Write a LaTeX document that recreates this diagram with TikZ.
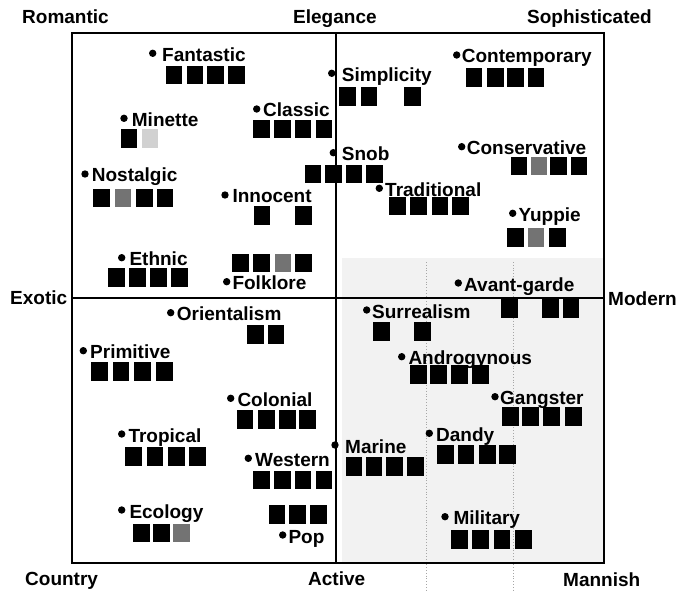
\documentclass[tikz,border=0pt]{standalone}
\usepackage{fontspec}
\setmainfont{Liberation Sans}
\newcommand\imgitem[5]{%
  \fill (#2,#3) circle[radius=3.7];
  \node[lbl] (#1) at (#4,#3+8) {#5};
}
\newcommand\sqrow[3]{%
  \foreach \xx in {#2} {\fill[#3] (\xx,#1) rectangle ++(16.5,18.5);}
}
\tikzset{
  lbl/.style={anchor=base west, inner sep=0pt, font=\fontsize{19}{21}\selectfont\bfseries},
  corner/.style={anchor=base west, inner sep=0pt, font=\fontsize{19}{21}\selectfont\bfseries},
  blk/.style={fill=black},
  mot/.style={fill=black!55},
  lightmot/.style={fill=black!18},
  frame/.style={line width=2pt},
  axis/.style={line width=1.6pt},
  grid/.style={black!35, dotted, line width=0.8pt}
}
\begin{document}
\begin{tikzpicture}[x=1pt,y=-1pt]
\useasboundingbox (0,0) rectangle (677,596);
% faint stippled area of the lower right quadrant
\fill[black!5] (342,258) rectangle (604,563);
\draw[grid] (426,262) -- (426,590);
\draw[grid] (513,262) -- (513,590);
% frame and axes
\draw[frame] (72,33) rectangle (604,563);
\draw[axis] (336,33) -- (336,563);
\draw[axis] (72,298) -- (604,298);
% corner and axis labels
\node[corner] (romantic) at (22,24) {Romantic};
\node[corner] (elegance) at (293,24) {Elegance};
\node[corner] (sophisticated) at (527,24) {Sophisticated};
\node[corner] (exotic) at (10,304) {Exotic};
\node[corner] (modern) at (608,305) {Modern};
\node[corner] (country) at (25,585) {Country};
\node[corner] (active) at (308,585) {Active};
\node[corner] (mannish) at (563,586) {Mannish};
% upper left
\imgitem{fantastic}{152.7}{53.3}{162}{Fantastic}
\sqrow{66}{165.7,186.7,207,228}{blk}
\imgitem{minette}{124}{118.3}{131.7}{Minette}
\sqrow{129.3}{120.7}{blk}
\sqrow{129.3}{141.7}{lightmot}
\imgitem{nostalgic}{85}{174}{91.7}{Nostalgic}
\sqrow{189}{93.3,136,156.5}{blk}
\sqrow{189}{114.5}{mot}
\imgitem{ethnic}{121.7}{257.7}{129.3}{Ethnic}
\sqrow{268.3}{108,129,150,171}{blk}
\imgitem{classic}{256.7}{109}{263}{Classic}
\sqrow{120}{253,274,294.5,315.5}{blk}
\imgitem{innocent}{225}{195}{232.3}{Innocent}
\sqrow{206}{253.5,295}{blk}
\sqrow{253.5}{232,253,295}{blk}
\sqrow{253.5}{274.5}{mot}
\imgitem{folklore}{226.7}{281.7}{232.3}{Folklore}
% upper right
\imgitem{simplicity}{331.7}{73.3}{341.7}{Simplicity}
\sqrow{87.3}{339,360.5,404}{blk}
\imgitem{snob}{333.3}{152.7}{341.7}{Snob}
\sqrow{165}{304.5,325,345.5,366}{blk}
\imgitem{contemporary}{456.7}{55}{461.7}{Contemporary}
\sqrow{68.3}{465.5,487,507,527.5}{blk}
\imgitem{conservative}{461.7}{146.7}{466.7}{Conservative}
\sqrow{157}{510.5,550,570.5}{blk}
\sqrow{157}{530.5}{mot}
\imgitem{traditional}{379.3}{188.3}{385}{Traditional}
\sqrow{196.7}{389,410,431.5,452}{blk}
\imgitem{yuppie}{512.7}{213.3}{518.3}{Yuppie}
\sqrow{228.3}{507,549}{blk}
\sqrow{228.3}{527.5}{mot}
\imgitem{avantgarde}{458.3}{283}{464}{Avant-garde}
% lower right
\sqrow{299}{501,542,562.5}{blk}
\imgitem{surrealism}{366.7}{310}{372}{Surrealism}
\sqrow{322}{373,414}{blk}
\imgitem{androgynous}{401.7}{356.7}{408.3}{Androgynous}
\sqrow{365}{410,430,451,472}{blk}
\imgitem{gangster}{495}{396.7}{500}{Gangster}
\sqrow{407}{502,522,543,565}{blk}
\imgitem{dandy}{429.3}{433.3}{436}{Dandy}
\sqrow{445}{437,457.5,479,499}{blk}
\imgitem{marine}{335}{445}{345}{Marine}
\sqrow{457}{345.5,365.5,386,407}{blk}
\imgitem{military}{445}{516.7}{453.3}{Military}
\sqrow{530}{451,472,493.5,515}{blk}
% lower left
\imgitem{orientalism}{170.7}{312.7}{176.7}{Orientalism}
\sqrow{325}{247,267.5}{blk}
\imgitem{primitive}{83.3}{350.7}{90}{Primitive}
\sqrow{362}{91,112.7,134,156}{blk}
\imgitem{colonial}{230.7}{398.3}{237.3}{Colonial}
\sqrow{410}{236.5,258,279,299}{blk}
\imgitem{tropical}{121.7}{434}{128.3}{Tropical}
\sqrow{447}{125,146.5,168,189}{blk}
\imgitem{western}{248.3}{458.3}{255}{Western}
\sqrow{470.5}{253,274,294.5,315.5}{blk}
\imgitem{ecology}{121.7}{510}{129.3}{Ecology}
\sqrow{523.5}{133,153}{blk}
\sqrow{523.5}{173}{mot}
\sqrow{505}{268.5,289,310}{blk}
\imgitem{pop}{282.7}{535}{288.3}{Pop}
\end{tikzpicture}
\end{document}
